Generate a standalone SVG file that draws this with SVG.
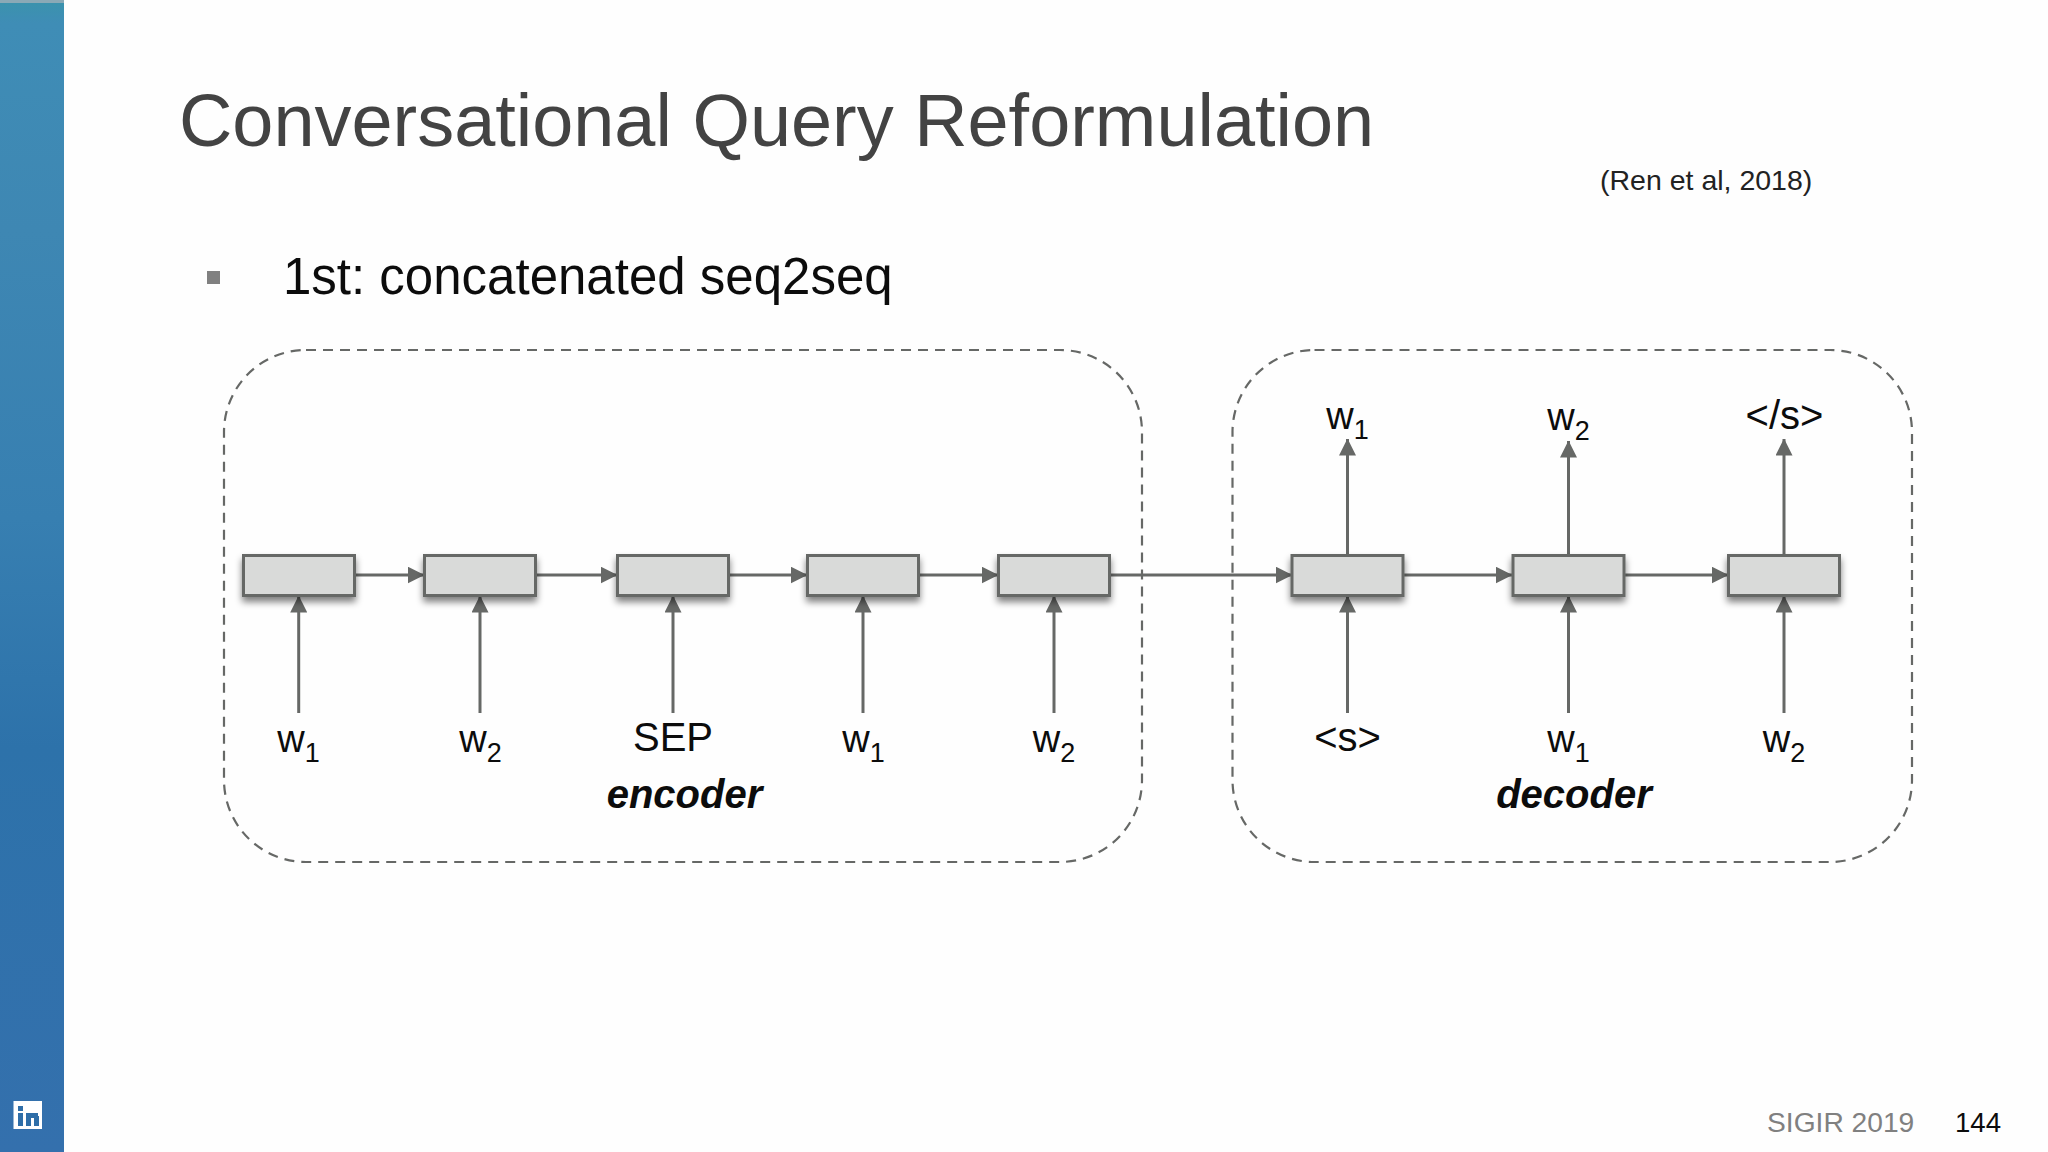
<svg xmlns="http://www.w3.org/2000/svg" width="2048" height="1152" viewBox="0 0 2048 1152">
<style>
text{font-family:"Liberation Sans",Arial,sans-serif}
.lb{font-size:38px;fill:#0c0c0c;text-anchor:middle}
.sub{font-size:27px}
.big{font-size:40px}
.tag{font-size:40px;font-weight:bold;font-style:italic;fill:#0c0c0c;text-anchor:middle}
.box{fill:#d9dad9;stroke:#666866;stroke-width:3;filter:url(#sh)}
.grp{fill:none;stroke:#666866;stroke-width:2.2;stroke-dasharray:10 7}
.c line{stroke:#666866;stroke-width:3;marker-end:url(#ah)}
</style>
<defs>
<linearGradient id="side" x1="0" y1="0" x2="0" y2="1">
<stop offset="0" stop-color="#3a93ac"/><stop offset="0.02" stop-color="#3f8db6"/><stop offset="0.2" stop-color="#3e87b3"/><stop offset="0.45" stop-color="#377fb1"/><stop offset="0.65" stop-color="#2d72aa"/><stop offset="1" stop-color="#3470ad"/>
</linearGradient>
<filter id="sh" x="-15%" y="-30%" width="130%" height="180%">
<feGaussianBlur in="SourceAlpha" stdDeviation="3.5"/><feOffset dy="5"/><feComponentTransfer><feFuncA type="linear" slope="0.5"/></feComponentTransfer>
<feMerge><feMergeNode/><feMergeNode in="SourceGraphic"/></feMerge>
</filter>
<marker id="ah" markerUnits="userSpaceOnUse" markerWidth="17" markerHeight="17" refX="16.5" refY="8.5" orient="auto"><path d="M0 0L17 8.5L0 17Z" fill="#666866"/></marker>
</defs>
<rect width="2048" height="1152" fill="#fefefe"/>
<rect width="64" height="1152" fill="url(#side)"/>
<rect width="64" height="3" fill="#8aa9b6"/>
<g id="linkedin"><rect x="13.5" y="1101" width="28.5" height="28" fill="#fff"/><g fill="#2f6ea8"><rect x="18" y="1106" width="5" height="5"/><rect x="18" y="1113" width="5" height="13"/><rect x="26" y="1113" width="5" height="13"/><rect x="31" y="1113" width="7" height="5"/><rect x="34" y="1116" width="5" height="10"/></g></g>
<text x="179" y="146" font-size="73.9" fill="#434343">Conversational Query Reformulation</text>
<text x="1600" y="190" font-size="28.5" fill="#222">(Ren et al, 2018)</text>
<rect x="207" y="271" width="13" height="13" fill="#808080"/>
<text x="283" y="294" font-size="51" fill="#0c0c0c">1st: concatenated seq2seq</text>
<text x="1767" y="1132" font-size="28.2" fill="#808080">SIGIR 2019</text>
<text x="1955" y="1132" font-size="27.6" fill="#0c0c0c">144</text>
<g id="encoder-group"><rect class="grp" x="224" y="350" width="918" height="512" rx="82" ry="82"/><text class="tag" x="684.5" y="808">encoder</text></g>
<g id="decoder-group"><rect class="grp" x="1232.5" y="350" width="679.5" height="512" rx="82" ry="82"/><text class="tag" x="1574" y="808">decoder</text></g>
<g id="connectors" class="c">
<line x1="355" y1="575" x2="424" y2="575"/><line x1="536" y1="575" x2="617" y2="575"/><line x1="729" y1="575" x2="807" y2="575"/><line x1="919" y1="575" x2="998" y2="575"/><line x1="1110" y1="575" x2="1292" y2="575"/><line x1="1403" y1="575" x2="1512" y2="575"/><line x1="1624" y1="575" x2="1728" y2="575"/>
<line x1="298.7" y1="713" x2="298.7" y2="596"/><line x1="480" y1="713" x2="480" y2="596"/><line x1="673" y1="713" x2="673" y2="596"/><line x1="863" y1="713" x2="863" y2="596"/><line x1="1054" y1="713" x2="1054" y2="596"/><line x1="1347.5" y1="713" x2="1347.5" y2="596"/><line x1="1568.5" y1="713" x2="1568.5" y2="596"/><line x1="1784" y1="713" x2="1784" y2="596"/>
<line x1="1347.5" y1="555" x2="1347.5" y2="439"/><line x1="1568.5" y1="555" x2="1568.5" y2="441"/><line x1="1784" y1="555" x2="1784" y2="439"/>
</g>
<g id="n1"><rect class="box" x="243.5" y="555.5" width="111" height="40"/><text class="lb" x="298.5" y="752">w<tspan class="sub" dy="10">1</tspan></text></g>
<g id="n2"><rect class="box" x="424.5" y="555.5" width="111" height="40"/><text class="lb" x="480.5" y="752">w<tspan class="sub" dy="10">2</tspan></text></g>
<g id="n3"><rect class="box" x="617.5" y="555.5" width="111" height="40"/><text class="lb big" x="673" y="751">SEP</text></g>
<g id="n4"><rect class="box" x="807.5" y="555.5" width="111" height="40"/><text class="lb" x="863.5" y="752">w<tspan class="sub" dy="10">1</tspan></text></g>
<g id="n5"><rect class="box" x="998.5" y="555.5" width="111" height="40"/><text class="lb" x="1054" y="752">w<tspan class="sub" dy="10">2</tspan></text></g>
<g id="n6"><rect class="box" x="1292" y="555.5" width="111" height="40"/><text class="lb big" x="1347.5" y="751">&lt;s&gt;</text><text class="lb" x="1347.5" y="429">w<tspan class="sub" dy="10">1</tspan></text></g>
<g id="n7"><rect class="box" x="1513" y="555.5" width="111" height="40"/><text class="lb" x="1568.5" y="752">w<tspan class="sub" dy="10">1</tspan></text><text class="lb" x="1568.5" y="430">w<tspan class="sub" dy="10">2</tspan></text></g>
<g id="n8"><rect class="box" x="1728.5" y="555.5" width="111" height="40"/><text class="lb" x="1784" y="752">w<tspan class="sub" dy="10">2</tspan></text><text class="lb big" x="1784.5" y="429">&lt;/s&gt;</text></g>
</svg>
